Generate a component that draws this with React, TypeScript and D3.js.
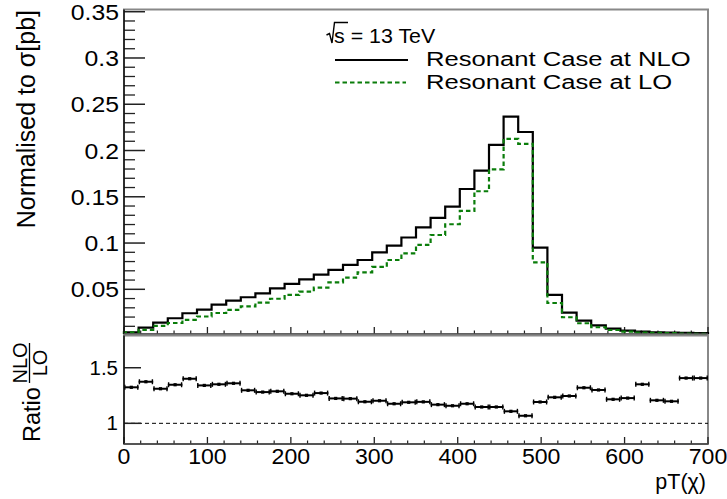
import React from 'react';
import * as d3 from 'd3';

// ---------- data ----------
const binWidth = 17.5;
const nloValues = [0.0036, 0.0086, 0.0140, 0.0187, 0.0241, 0.0280, 0.0334, 0.0377, 0.0414, 0.0457,
  0.0511, 0.0558, 0.0608, 0.0658, 0.0709, 0.0763, 0.0817, 0.0900, 0.0972, 0.1060,
  0.1170, 0.1271, 0.1393, 0.1584, 0.1782, 0.2060, 0.2366, 0.2200, 0.0950, 0.0439,
  0.0248, 0.0161, 0.0111, 0.0075, 0.0053, 0.0042, 0.0036, 0.0032, 0.0029, 0.0026];
const loValues = [0.0034, 0.0062, 0.0105, 0.0136, 0.0170, 0.0206, 0.0244, 0.0278, 0.0316, 0.0356,
  0.0398, 0.0439, 0.0475, 0.0518, 0.0576, 0.0626, 0.0684, 0.0742, 0.0817, 0.0889,
  0.0980, 0.1087, 0.1203, 0.1347, 0.1560, 0.1797, 0.2125, 0.2071, 0.0792, 0.0352,
  0.0198, 0.0133, 0.0090, 0.0060, 0.0043, 0.0033, 0.0029, 0.0026, 0.0022, 0.0019];
const ratioValues = [1.324, 1.374, 1.311, 1.347, 1.401, 1.341, 1.351, 1.360, 1.297, 1.281,
  1.288, 1.266, 1.252, 1.272, 1.224, 1.222, 1.194, 1.203, 1.176, 1.189,
  1.193, 1.168, 1.158, 1.176, 1.147, 1.147, 1.108, 1.068, 1.192, 1.234,
  1.246, 1.320, 1.300, 1.216, 1.227, 1.351, 1.207, 1.198, 1.407, 1.407];
const topYTicks = [0.05, 0.1, 0.15, 0.2, 0.25, 0.3, 0.35];
const topYTickLabels = ['0.05', '0.1', '0.15', '0.2', '0.25', '0.3', '0.35'];
const xTicks = [0, 100, 200, 300, 400, 500, 600, 700];
const xTickLabels = ['0', '100', '200', '300', '400', '500', '600', '700'];
const ratioYTicks = [1, 1.5];
const ratioYTickLabels = ['1', '1.5'];
const legendLabels = ['Resonant Case at NLO', 'Resonant Case at LO'];

// ---------- layout ----------
const W = 727, H = 499;
const L = 124, R = 708;
const topT = 9.5, topB = 334;
const ratT = 335.5, ratB = 444;
const FONT = '"Liberation Sans", Arial, Helvetica, sans-serif';
const GREEN = '#0a7d0a';

const x = d3.scaleLinear().domain([0, 700]).range([L, R]);
const yTop = d3.scaleLinear().domain([0.0017, 0.3524]).range([topB, topT]);
const yRat = d3.scaleLinear().domain([0.814, 1.79]).range([ratB, ratT]);

const binLow = nloValues.map((_, i) => i * binWidth);

function stepPath(vals: number[]) {
  const pts: [number, number][] = [];
  pts.push([x(0), topB]);
  vals.forEach((v, i) => {
    pts.push([x(binLow[i]), yTop(v)]);
    pts.push([x(binLow[i] + binWidth), yTop(v)]);
  });
  pts.push([x(binLow[vals.length - 1] + binWidth), topB]);
  return d3.line()(pts) || '';
}

function HText({ x: tx, y: ty, anchor = 'start', size, sx = 1, children }: any) {
  return (
    <g transform={`translate(${tx},${ty}) scale(${sx},1)`}>
      <text x={0} y={0} textAnchor={anchor} fontSize={size} fontFamily={FONT} fill="#000">{children}</text>
    </g>
  );
}

export default function App() {
  const topMinor = d3.range(0.01, 0.351, 0.01).map(v => +v.toFixed(3)).filter(v => !topYTicks.some(t => Math.abs(t - v) < 1e-6));
  const xMinor = d3.range(0, 701, 20).filter(v => v % 100 !== 0);
  const tickColor = '#222';
  return (
    <svg width={W} height={H} style={{ position: 'absolute', left: 0, top: 0, background: '#fff' }}>
      <rect x={0} y={0} width={W} height={H} fill="#fff" />
      {/* ---------- top panel ---------- */}
      <rect x={L} y={topT} width={R - L} height={topB - topT} fill="none" stroke="#888" strokeWidth={2} />
      {topYTicks.map((t, i) => (
        <g key={'yt' + i}>
          <line x1={L} x2={L + 21} y1={yTop(t)} y2={yTop(t)} stroke={tickColor} strokeWidth={1.5} />
          <HText x={119} y={yTop(t) + 8} anchor="end" size={22.5} sx={1.1}>{topYTickLabels[i]}</HText>
        </g>
      ))}
      {topMinor.map((t, i) => (
        <line key={'ym' + i} x1={L} x2={L + 11} y1={yTop(t)} y2={yTop(t)} stroke={tickColor} strokeWidth={1.3} />
      ))}
      {xTicks.map((t, i) => (
        <line key={'xt' + i} x1={x(t)} x2={x(t)} y1={topB} y2={topB - 7} stroke={tickColor} strokeWidth={1.3} />
      ))}
      {xMinor.map((t, i) => (
        <line key={'xm' + i} x1={x(t)} x2={x(t)} y1={topB} y2={topB - 3.5} stroke={tickColor} strokeWidth={1.2} />
      ))}
      <path d={stepPath(nloValues)} fill="none" stroke="#000" strokeWidth={2.2} />
      <path d={stepPath(loValues)} fill="none" stroke={GREEN} strokeWidth={2.2} strokeDasharray="4.5,3" />
      <line x1={L} x2={L} y1={topT} y2={topB} stroke="#111" strokeWidth={1.5} />
      <line x1={L} x2={R} y1={topB} y2={topB} stroke="#555" strokeWidth={1.5} />

      <g transform={`translate(35,10) rotate(-90)`}>
        <text x={0} y={0} textAnchor="end" fontSize={25} fontFamily={FONT}>Normalised to σ[pb]</text>
      </g>

      {/* legend */}
      <path d="M326.5,35 L329.5,33.5 L332,43 L334.5,22.5 H348" fill="none" stroke="#000" strokeWidth={1.4} />
      <HText x={334} y={42.5} size={20} sx={1.07}>s = 13 TeV</HText>
      <line x1={335} x2={408} y1={60} y2={60} stroke="#000" strokeWidth={2.2} />
      <line x1={335} x2={406} y1={82.5} y2={82.5} stroke={GREEN} strokeWidth={2.2} strokeDasharray="4.5,3" />
      <HText x={426} y={65.5} size={21} sx={1.22}>{legendLabels[0]}</HText>
      <HText x={426} y={89} size={21} sx={1.22}>{legendLabels[1]}</HText>

      {/* ---------- ratio panel ---------- */}
      <rect x={L} y={ratT} width={R - L} height={ratB - ratT} fill="none" stroke="#888" strokeWidth={2} />
      <line x1={L} x2={R} y1={yRat(1)} y2={yRat(1)} stroke="#000" strokeWidth={1} strokeDasharray="4,3" />
      {ratioYTicks.map((t, i) => (
        <g key={'ry' + i}>
          <line x1={L} x2={L + 17} y1={yRat(t)} y2={yRat(t)} stroke={tickColor} strokeWidth={1.5} />
          <HText x={118} y={yRat(t) + 7} anchor="end" size={19.5} sx={1.05}>{ratioYTickLabels[i]}</HText>
        </g>
      ))}
      {xTicks.map((t, i) => (
        <g key={'rx' + i}>
          <line x1={x(t)} x2={x(t)} y1={ratB} y2={ratB - 7} stroke={tickColor} strokeWidth={1.3} />
          <HText x={x(t)} y={464} anchor="middle" size={22} sx={1.05}>{xTickLabels[i]}</HText>
        </g>
      ))}
      {xMinor.map((t, i) => (
        <line key={'rxm' + i} x1={x(t)} x2={x(t)} y1={ratB} y2={ratB - 3.5} stroke={tickColor} strokeWidth={1.2} />
      ))}
      {ratioValues.map((r, i) => {
        const x0 = x(binLow[i]), x1 = x(binLow[i] + binWidth), yy = yRat(r);
        const xc = (x0 + x1) / 2;
        return (
          <g key={'rp' + i}>
            <line x1={x0} x2={x1} y1={yy} y2={yy} stroke="#000" strokeWidth={2} />
            <line x1={x0 + 0.8} x2={x0 + 0.8} y1={yy - 2.5} y2={yy + 2.5} stroke="#000" strokeWidth={1.4} />
            <line x1={x1 - 0.8} x2={x1 - 0.8} y1={yy - 2.5} y2={yy + 2.5} stroke="#000" strokeWidth={1.4} />
            <rect x={xc - 1.6} y={yy - 1.6} width={3.2} height={3.2} fill="#000" />
          </g>
        );
      })}
      <line x1={L} x2={L} y1={ratT} y2={ratB} stroke="#111" strokeWidth={1.5} />
      <line x1={L} x2={R} y1={ratB} y2={ratB} stroke="#444" strokeWidth={1.5} />

      {/* ratio title */}
      <g transform={`translate(40,442) rotate(-90)`}>
        <text x={0} y={0} fontSize={23.5} fontFamily={FONT}>Ratio</text>
      </g>
      <line x1={29.5} x2={29.5} y1={343} y2={383} stroke="#000" strokeWidth={1.3} />
      <g transform={`translate(26.5,363) rotate(-90)`}>
        <text x={0} y={0} textAnchor="middle" fontSize={20} fontFamily={FONT}>NLO</text>
      </g>
      <g transform={`translate(47,363) rotate(-90)`}>
        <text x={0} y={0} textAnchor="middle" fontSize={20} fontFamily={FONT}>LO</text>
      </g>

      <text x={706} y={489} textAnchor="end" fontSize={21.5} fontFamily={FONT}>pT(χ)</text>
    </svg>
  );
}
